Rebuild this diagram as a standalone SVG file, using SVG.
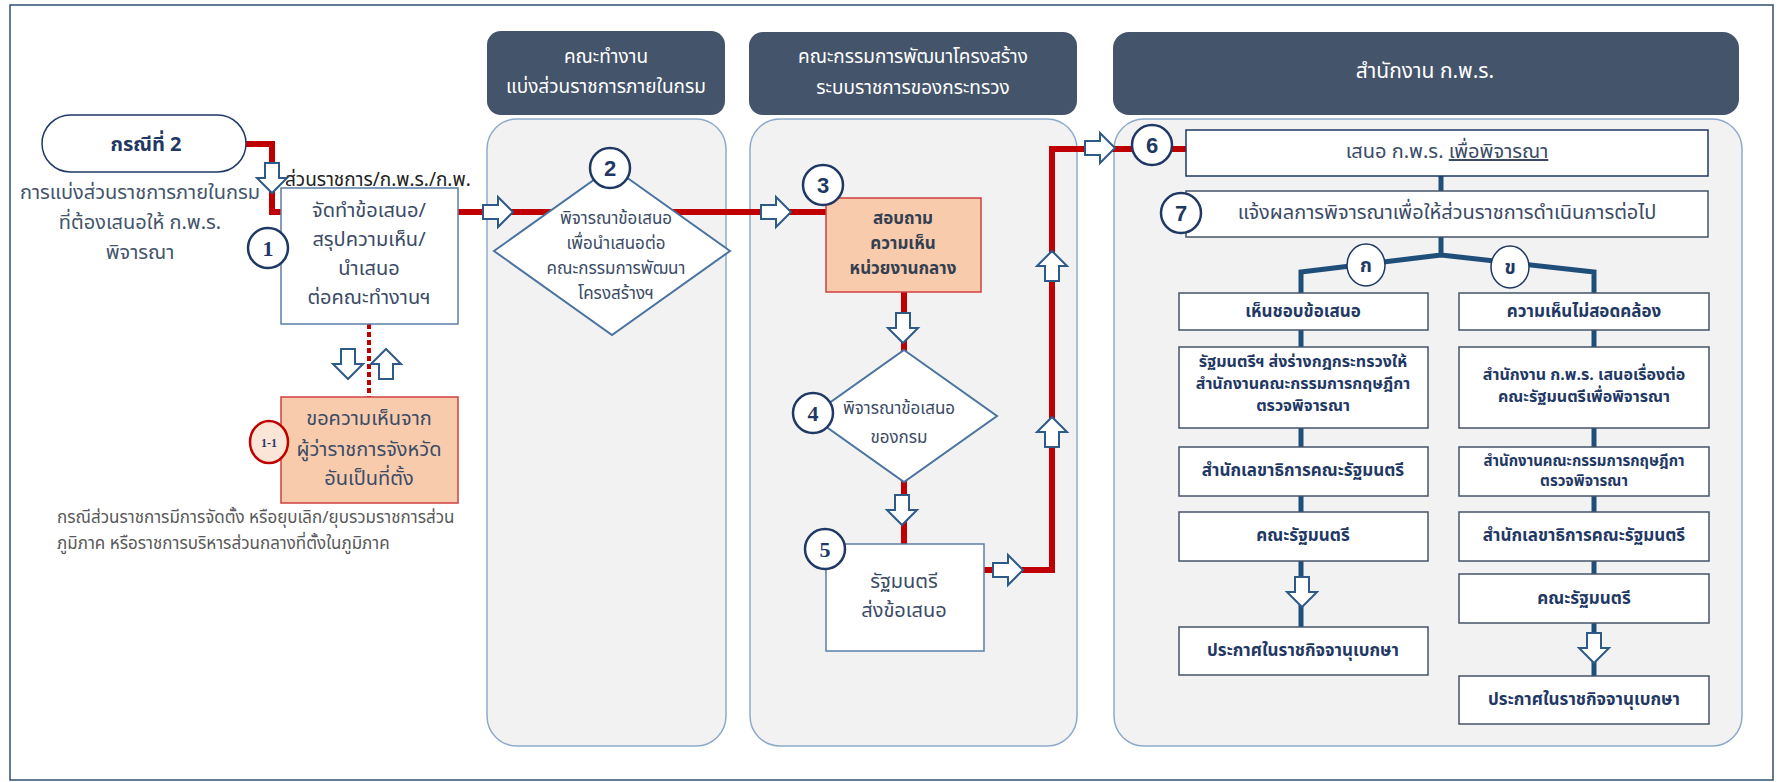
<svg xmlns="http://www.w3.org/2000/svg" width="1784" height="782" viewBox="0 0 1784 782">
<style>
text{font-family:'Noto Sans Thai','Noto Sans','DejaVu Sans',sans-serif;}
.hdr{fill:#44546A;}
.hdrt{fill:#FFFFFF;font-size:19px;text-anchor:middle;}
.panel{fill:#F2F2F2;stroke:#8EAACB;stroke-width:1.5;}
.box{fill:#FFFFFF;stroke:#5B7FA8;stroke-width:1.5;}
.pbox{fill:#F8CBAD;stroke:#D04040;stroke-width:1.5;}
.dia{fill:#FFFFFF;stroke:#4A73A0;stroke-width:2;}
.t{fill:#3B4B66;font-size:20px;text-anchor:middle;}
.ts{fill:#3B4B66;font-size:17px;text-anchor:middle;}
.tb{fill:#1F3864;font-size:17px;font-weight:bold;text-anchor:middle;}
.tbox{fill:#FFFFFF;stroke:#44546A;stroke-width:1.5;}
.circ{fill:#FFFFFF;stroke:#1F3864;stroke-width:2.5;}
.num{fill:#1F3864;font-size:22px;font-weight:bold;text-anchor:middle;font-family:'Liberation Sans',sans-serif;}
.nums{fill:#1F3864;font-size:22px;font-weight:bold;text-anchor:middle;font-family:'Liberation Serif',serif;}
.red{fill:none;stroke:#C00000;stroke-width:6;}
.navy{fill:none;stroke:#1F4E79;stroke-width:5;}
.arr{fill:#FFFFFF;stroke:#2E5A87;stroke-width:2;stroke-linejoin:miter;}
</style>
<defs>
<path id="ad" d="M-7,-15 H7 V0 H15 L0,15 L-15,0 H-7 Z"/>
</defs>
<rect x="10" y="5" width="1763" height="775" fill="#FFFFFF" stroke="#2F4F6F" stroke-width="1.5"/>

<g id="lane1">
<rect class="hdr" x="487" y="31" width="238" height="84" rx="14"/>
<text class="hdrt" x="606" y="63">คณะทำงาน<tspan x="606" dy="30">แบ่งส่วนราชการภายในกรม</tspan></text>
<rect class="panel" x="487" y="119" width="239" height="627" rx="30"/>
</g>
<g id="lane2">
<rect class="hdr" x="749" y="32" width="328" height="83" rx="14"/>
<text class="hdrt" x="913" y="63">คณะกรรมการพัฒนาโครงสร้าง<tspan x="913" dy="31">ระบบราชการของกระทรวง</tspan></text>
<rect class="panel" x="750" y="119" width="327" height="627" rx="30"/>
</g>
<g id="lane3">
<rect class="hdr" x="1113" y="32" width="626" height="83" rx="16"/>
<text class="hdrt" x="1425" y="78" style="font-size:21px">สำนักงาน ก.พ.ร.</text>
<rect class="panel" x="1114" y="119" width="628" height="627" rx="30"/>
</g>

<g id="connectors">
<path class="red" d="M246,144 H272 V212 H281"/>
<path class="red" d="M458,212 H826"/>
<path class="red" d="M904,292 V352"/>
<path class="red" d="M904,480 V544"/>
<path class="red" d="M984,570 H1052 V149 H1186"/>
<path d="M369,324 V397" fill="none" stroke="#C00000" stroke-width="4" stroke-dasharray="5 3"/>
<path class="navy" d="M1441,176 V191 M1441,237 V255 L1301,272 V293 M1441,255 L1594,272 V293"/>
<path class="navy" d="M1301,330 V347 M1301,428 V447 M1301,496 V512 M1301,561 V627"/>
<path class="navy" d="M1594,330 V347 M1594,428 V447 M1594,496 V512 M1594,561 V574 M1594,623 V676"/>
<use href="#ad" class="arr" transform="translate(272,178)"/>
<use href="#ad" class="arr" transform="translate(498,212) rotate(-90)"/>
<use href="#ad" class="arr" transform="translate(776,212) rotate(-90)"/>
<use href="#ad" class="arr" transform="translate(903,328)"/>
<use href="#ad" class="arr" transform="translate(902,510)"/>
<use href="#ad" class="arr" transform="translate(1008,570) rotate(-90)"/>
<use href="#ad" class="arr" transform="translate(1052,432) rotate(180)"/>
<use href="#ad" class="arr" transform="translate(1052,266) rotate(180)"/>
<use href="#ad" class="arr" transform="translate(1100,148) rotate(-90)"/>
<use href="#ad" class="arr" transform="translate(348,364)"/>
<use href="#ad" class="arr" transform="translate(386,364) rotate(180)"/>
<use href="#ad" class="arr" transform="translate(1302,592)"/>
<use href="#ad" class="arr" transform="translate(1594,648)"/>
</g>

<g id="start">
<rect x="42" y="115" width="204" height="57" rx="28.5" fill="#FFFFFF" stroke="#1F3864" stroke-width="1.5"/>
<text x="146" y="151" style="fill:#1F3864;font-size:20px;font-weight:bold;text-anchor:middle">กรณีที่ 2</text>
<text class="t" x="140" y="199" style="fill:#44546A">การแบ่งส่วนราชการภายในกรม<tspan x="140" dy="30">ที่ต้องเสนอให้ ก.พ.ร.</tspan><tspan x="140" dy="30">พิจารณา</tspan></text>
</g>
<g id="label-sender">
<text x="285" y="186" style="fill:#222222;font-size:19px">ส่วนราชการ/ก.พ.ร./ก.พ.</text>
</g>
<g id="node1">
<rect class="box" x="281" y="188" width="177" height="136"/>
<text class="t" x="369" y="217">จัดทำข้อเสนอ/<tspan x="369" dy="29">สรุปความเห็น/</tspan><tspan x="369" dy="29">นำเสนอ</tspan><tspan x="369" dy="29">ต่อคณะทำงานฯ</tspan></text>
<circle class="circ" cx="268" cy="248" r="20"/>
<text class="nums" x="268" y="256">1</text>
</g>
<g id="node1-1">
<rect class="pbox" x="281" y="397" width="177" height="106"/>
<text class="t" x="369" y="425">ขอความเห็นจาก<tspan x="369" dy="31">ผู้ว่าราชการจังหวัด</tspan><tspan x="369" dy="29">อันเป็นที่ตั้ง</tspan></text>
<ellipse cx="269" cy="442" rx="19" ry="21" fill="#FBE5D6" stroke="#C00000" stroke-width="2.5"/>
<text x="269" y="447" style="fill:#1F3864;font-size:12px;font-weight:bold;text-anchor:middle;font-family:'Liberation Serif',serif">1-1</text>
</g>
<g id="note">
<text x="57" y="523" style="fill:#595959;font-size:17px">กรณีส่วนราชการมีการจัดตั้ง หรือยุบเลิก/ยุบรวมราชการส่วน<tspan x="57" dy="26">ภูมิภาค หรือราชการบริหารส่วนกลางที่ตั้งในภูมิภาค</tspan></text>
</g>
<g id="node2">
<polygon class="dia" points="612,167 730,251 612,335 494,251"/>
<text class="ts" x="616" y="224">พิจารณาข้อเสนอ<tspan x="616" dy="25">เพื่อนำเสนอต่อ</tspan><tspan x="616" dy="25">คณะกรรมการพัฒนา</tspan><tspan x="616" dy="25">โครงสร้างฯ</tspan></text>
<circle class="circ" cx="610" cy="168" r="20"/>
<text class="num" x="610" y="176">2</text>
</g>
<g id="node3">
<rect class="pbox" x="826" y="198" width="155" height="94"/>
<text class="tb" x="903" y="224" style="fill:#333F50">สอบถาม<tspan x="903" dy="25">ความเห็น</tspan><tspan x="903" dy="25">หน่วยงานกลาง</tspan></text>
<circle class="circ" cx="823" cy="185" r="20"/>
<text class="num" x="823" y="193">3</text>
</g>
<g id="node4">
<polygon class="dia" points="904,350 997,416 904,482 811,416"/>
<text class="ts" x="899" y="414">พิจารณาข้อเสนอ<tspan x="899" dy="29">ของกรม</tspan></text>
<circle class="circ" cx="813" cy="413" r="20"/>
<text class="nums" x="813" y="421">4</text>
</g>
<g id="node5">
<rect class="box" x="826" y="544" width="158" height="107"/>
<text class="t" x="904" y="588">รัฐมนตรี<tspan x="904" dy="29">ส่งข้อเสนอ</tspan></text>
<circle class="circ" cx="825" cy="549" r="20"/>
<text class="nums" x="825" y="557">5</text>
</g>
<g id="node6">
<rect class="tbox" x="1186" y="130" width="522" height="46" style="stroke:#1F3864"/>
<text class="t" x="1447" y="158">เสนอ ก.พ.ร. <tspan text-decoration="underline">เพื่อพิจารณา</tspan></text>
<circle class="circ" cx="1152" cy="145" r="20"/>
<text class="num" x="1152" y="153">6</text>
</g>
<g id="node7">
<rect class="tbox" x="1186" y="191" width="522" height="46"/>
<text class="t" x="1447" y="219">แจ้งผลการพิจารณาเพื่อให้ส่วนราชการดำเนินการต่อไป</text>
<circle class="circ" cx="1181" cy="213" r="20"/>
<text class="num" x="1181" y="221">7</text>
</g>
<g id="branch-ka">
<ellipse class="circ" cx="1366" cy="265" rx="19" ry="21" style="stroke-width:1.5"/>
<text x="1366" y="272" style="fill:#1F3864;font-size:19px;font-weight:bold;text-anchor:middle">ก</text>
</g>
<g id="branch-kho">
<ellipse class="circ" cx="1510" cy="267" rx="19" ry="21" style="stroke-width:1.5"/>
<text x="1510" y="274" style="fill:#1F3864;font-size:19px;font-weight:bold;text-anchor:middle">ข</text>
</g>
<g id="L1"><rect class="tbox" x="1179" y="293" width="249" height="37"/><text class="tb" x="1303" y="317">เห็นชอบข้อเสนอ</text></g>
<g id="L2"><rect class="tbox" x="1179" y="347" width="249" height="81"/>
<text class="tb" x="1303" y="367" style="font-size:16px">รัฐมนตรีฯ ส่งร่างกฎกระทรวงให้<tspan x="1303" dy="22">สำนักงานคณะกรรมการกฤษฎีกา</tspan><tspan x="1303" dy="22">ตรวจพิจารณา</tspan></text></g>
<g id="L3"><rect class="tbox" x="1179" y="447" width="249" height="49"/><text class="tb" x="1303" y="476">สำนักเลขาธิการคณะรัฐมนตรี</text></g>
<g id="L4"><rect class="tbox" x="1179" y="512" width="249" height="49"/><text class="tb" x="1303" y="541">คณะรัฐมนตรี</text></g>
<g id="L5"><rect class="tbox" x="1179" y="627" width="249" height="48"/><text class="tb" x="1303" y="656">ประกาศในราชกิจจานุเบกษา</text></g>
<g id="R1"><rect class="tbox" x="1459" y="293" width="250" height="37"/><text class="tb" x="1584" y="317">ความเห็นไม่สอดคล้อง</text></g>
<g id="R2"><rect class="tbox" x="1459" y="347" width="250" height="81"/>
<text class="tb" x="1584" y="380" style="font-size:16px">สำนักงาน ก.พ.ร. เสนอเรื่องต่อ<tspan x="1584" dy="22">คณะรัฐมนตรีเพื่อพิจารณา</tspan></text></g>
<g id="R3"><rect class="tbox" x="1459" y="447" width="250" height="49"/>
<text class="tb" x="1584" y="466" style="font-size:15px">สำนักงานคณะกรรมการกฤษฎีกา<tspan x="1584" dy="20">ตรวจพิจารณา</tspan></text></g>
<g id="R4"><rect class="tbox" x="1459" y="512" width="250" height="49"/><text class="tb" x="1584" y="541">สำนักเลขาธิการคณะรัฐมนตรี</text></g>
<g id="R5"><rect class="tbox" x="1459" y="574" width="250" height="49"/><text class="tb" x="1584" y="604">คณะรัฐมนตรี</text></g>
<g id="R6"><rect class="tbox" x="1459" y="676" width="250" height="48"/><text class="tb" x="1584" y="705">ประกาศในราชกิจจานุเบกษา</text></g>
</svg>
